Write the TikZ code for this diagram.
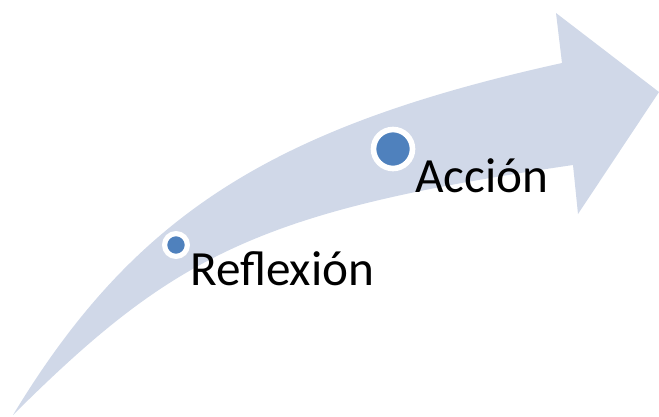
\documentclass[tikz,border=0pt]{standalone}
\usepackage{fontspec}
\setmainfont{Carlito}
\usepackage{tikz}
\usetikzlibrary{positioning}
\definecolor{bandfill}{HTML}{D0D8E8}
\definecolor{dotblue}{HTML}{4F81BD}
\tikzset{
	bigdot/.style={circle, inner sep=0pt, minimum size=1.17cm, fill=dotblue, draw=white, line width=4.8pt}
}
\tikzset{
	smalldot/.style={circle, inner sep=0pt, minimum size=0.684cm, fill=dotblue, draw=white, line width=4.4pt}
}
\tikzset{
	steptext/.style={font=\fontsize{42}{50}\selectfont, inner sep=0pt, anchor=base west}
}

\begin{document}
\begin{tikzpicture}[x=0.03cm, y=-0.03cm]
      \useasboundingbox (0,0) rectangle (659,417);
      % curved band with its head
      \fill[bandfill] (13,415) .. controls (134,215) and (272,127) .. (562,63)
        -- (556,13) -- (659,92) -- (578,214) -- (573,165)
        .. controls (258,211) and (174,255) .. (13,415) -- cycle;
      % first step
      \node[smalldot] (reflexiondot) at (176,245) {};
      \node[steptext] (reflexion) at (190,285) {Reflexión};
      % second step
      \node[bigdot] (acciondot) at (393,149) {};
      \node[steptext] (accion) at (415,192) {Acción};
    \end{tikzpicture}
\end{document}
